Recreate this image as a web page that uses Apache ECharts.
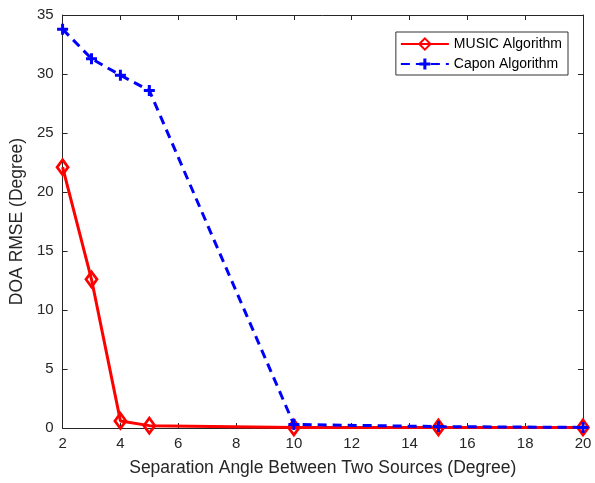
<!DOCTYPE html>
<html><head><meta charset="utf-8">
<script src="https://cdn.jsdelivr.net/npm/echarts@6/dist/echarts.min.js"></script>
<style>html,body{margin:0;padding:0;background:#fff}#c{width:595px;height:483px}</style>
</head><body><div id="c"></div>
<script>
var separation = [2, 3, 4, 5, 10, 15, 20];
var musicRmse = [22.1, 12.6, 0.6, 0.2, 0.05, 0.05, 0.05];
var caponRmse = [33.8, 31.3, 29.9, 28.6, 0.3, 0.12, 0.05];
var xTicks = [2, 4, 6, 8, 10, 12, 14, 16, 18, 20];
var yTicks = [0, 5, 10, 15, 20, 25, 30, 35];

var chart = echarts.init(document.getElementById('c'));
var font = 'Liberation Sans, Arial, sans-serif';
var txt = '#262626';
var plus = 'path://M4,0h3v4h4v3h-4v4h-3v-4h-4v-3h4z';
function pairs(xs, ys){ return xs.map(function(x,i){return [x, ys[i]];}); }
var axCommon = {
  axisLine:{show:true,onZero:false,lineStyle:{color:txt,width:1}},
  axisTick:{show:true,inside:true,length:5,lineStyle:{color:txt}},
  splitLine:{show:false}
};
chart.setOption({
  animation:false,
  backgroundColor:'#fff',
  textStyle:{fontFamily:font},
  grid:{left:62,right:12,top:15,bottom:55},
  legend:{
    right:27, top:32, orient:'vertical', itemGap:6, itemWidth:48, itemHeight:14,
    padding:[5,6,4,4],
    backgroundColor:'#fff', borderColor:'#333', borderWidth:1, borderRadius:0,
    textStyle:{fontSize:14,color:'#000',fontFamily:font},
    data:['MUSIC Algorithm','Capon Algorithm']
  },
  xAxis:[Object.assign({type:'value',min:2,max:20,interval:2,
    name:'Separation Angle Between Two Sources (Degree)',nameLocation:'middle',nameGap:31,
    nameTextStyle:{fontSize:17.5,color:txt},
    axisLabel:{fontSize:15,color:txt,margin:8}},axCommon),
    Object.assign({type:'value',min:2,max:20,interval:2,position:'top',axisLabel:{show:false}},axCommon)],
  yAxis:[Object.assign({type:'value',min:0,max:35,interval:5,
    name:'DOA RMSE (Degree)',nameLocation:'middle',nameGap:28,
    nameTextStyle:{fontSize:17.5,color:txt},
    axisLabel:{fontSize:15,color:txt,margin:9}},axCommon),
    Object.assign({type:'value',min:0,max:35,interval:5,position:'right',axisLabel:{show:false}},axCommon)],
  series:[
    {name:'MUSIC Algorithm',type:'line',data:pairs(separation,musicRmse),
     symbol:'diamond',symbolSize:[11,15],showAllSymbol:true,z:3,
     lineStyle:{color:'#ff0000',width:3},
     itemStyle:{color:'rgba(255,255,255,0)',borderColor:'#ff0000',borderWidth:2.8}},
    {name:'Capon Algorithm',type:'line',data:pairs(separation,caponRmse),
     symbol:plus,symbolSize:11,showAllSymbol:true,z:4,
     lineStyle:{color:'#0000ff',width:3,type:[9,6]},
     itemStyle:{color:'#0000ff'}}
  ]
});
</script></body></html>
